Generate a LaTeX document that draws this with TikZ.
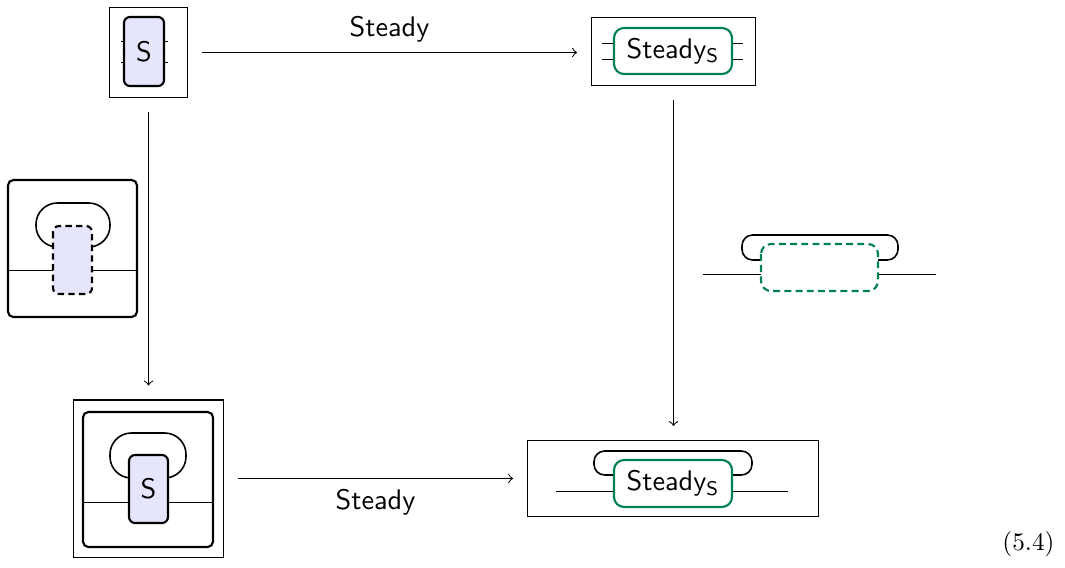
\documentclass[tikz,border=0pt]{standalone}
\usepackage{fontspec}
\definecolor{lav}{RGB}{229,229,252}
\definecolor{grn}{RGB}{0,128,87}
\begin{document}
\begin{tikzpicture}[x=0.375pt,y=-0.375pt,
  thinbox/.style={draw,line width=0.4pt,inner sep=0pt},
  sbox/.style={draw,line width=0.8pt,rounded corners=2.25pt,fill=lav,inner sep=0pt},
  gbox/.style={draw=grn,line width=0.8pt,rounded corners=3.75pt,fill=white,inner sep=0pt},
  frame/.style={line width=0.8pt,rounded corners=2pt},
  wire/.style={line width=0.4pt},
  loopw/.style={line width=0.6pt,rounded corners=8pt},
  arr/.style={->,line width=0.4pt,shorten <=5.25pt,shorten >=5.25pt},
  lab/.style={font=\sffamily\fontsize{10.6}{13}\selectfont,inner sep=0pt}]
\useasboundingbox (0,0) rectangle (1065,567);

% top-left
\node[thinbox,minimum width=29.25pt,minimum height=33.75pt] (tl) at (148.5,52.5) {};
\draw[wire] (121,41.5) -- (124,41.5) (121,62.5) -- (124,62.5) (164,41.5) -- (168,41.5) (164,62.5) -- (168,62.5);
\node[sbox,minimum width=15pt,minimum height=25.9pt,lab] (tls) at (144,51.5) {S};

% top-right
\node[thinbox,minimum width=61.5pt,minimum height=25.5pt] (tr) at (673.5,51.5) {};
\draw[wire] (602,43.5) -- (614,43.5) (602,59.5) -- (614,59.5) (732,43.5) -- (743,43.5) (732,59.5) -- (743,59.5);
\node[gbox,minimum width=44.25pt,minimum height=17.25pt,lab] (trs) at (673,51) {Steady$_{\mathsf{S}}$};

% left inset
\draw[frame] (8,180) rectangle (137,317);
\draw[wire] (8,270.5) -- (137,270.5);
\draw[loopw] (53,247) -- (36,247) -- (36,203) -- (110,203) -- (110,247) -- (92,247);
\draw[line width=0.8pt,dash pattern=on 2.4pt off 1.6pt,rounded corners=2.25pt,fill=lav] (53,226) rectangle (92,294);

% right inset
\draw[wire] (703,274.5) -- (761,274.5) (878,274.5) -- (936,274.5);
\draw[loopw,rounded corners=4pt] (761,260) -- (742,260) -- (742,235) -- (898,235) -- (898,260) -- (878,260);
\draw[grn,line width=0.8pt,dash pattern=on 2.6pt off 1.6pt,rounded corners=3.75pt] (761,244) rectangle (878,291);

% bottom-left
\node[thinbox,minimum width=56.25pt,minimum height=58.9pt] (bl) at (148.5,478.5) {};
\draw[frame] (83,412) rectangle (213,547);
\draw[wire] (83,502.5) -- (213,502.5);
\draw[loopw] (129,478) -- (110,478) -- (110,433) -- (186,433) -- (186,478) -- (168,478);
\node[sbox,minimum width=14.6pt,minimum height=25.5pt,lab] (bls) at (148.5,489) {S};

% bottom-right
\node[thinbox,minimum width=109.1pt,minimum height=28.5pt] (br) at (673,478.5) {};
\draw[loopw,rounded corners=4pt] (614,475) -- (594,475) -- (594,451) -- (752,451) -- (752,475) -- (732,475);
\draw[wire] (556,491.5) -- (614,491.5) (732,491.5) -- (788,491.5);
\node[gbox,minimum width=44.25pt,minimum height=17.6pt,lab] (brs) at (673,483.5) {Steady$_{\mathsf{S}}$};

% arrows
\draw[arr] (tl.east) -- (tl.east -| tr.west) node[midway,above=3.5pt,lab] {Steady};
\draw[arr] (tl.south) -- (tl.south |- bl.north);
\draw[arr] (tr.south) -- (tr.south |- br.north);
\draw[arr] (bl.east) -- (bl.east -| br.west) node[midway,below=4pt,lab] {Steady};

\node[font=\fontsize{9.5}{11}\selectfont,inner sep=0pt] (eq) at (1028.5,544) {(5.4)};
\end{tikzpicture}
\end{document}
